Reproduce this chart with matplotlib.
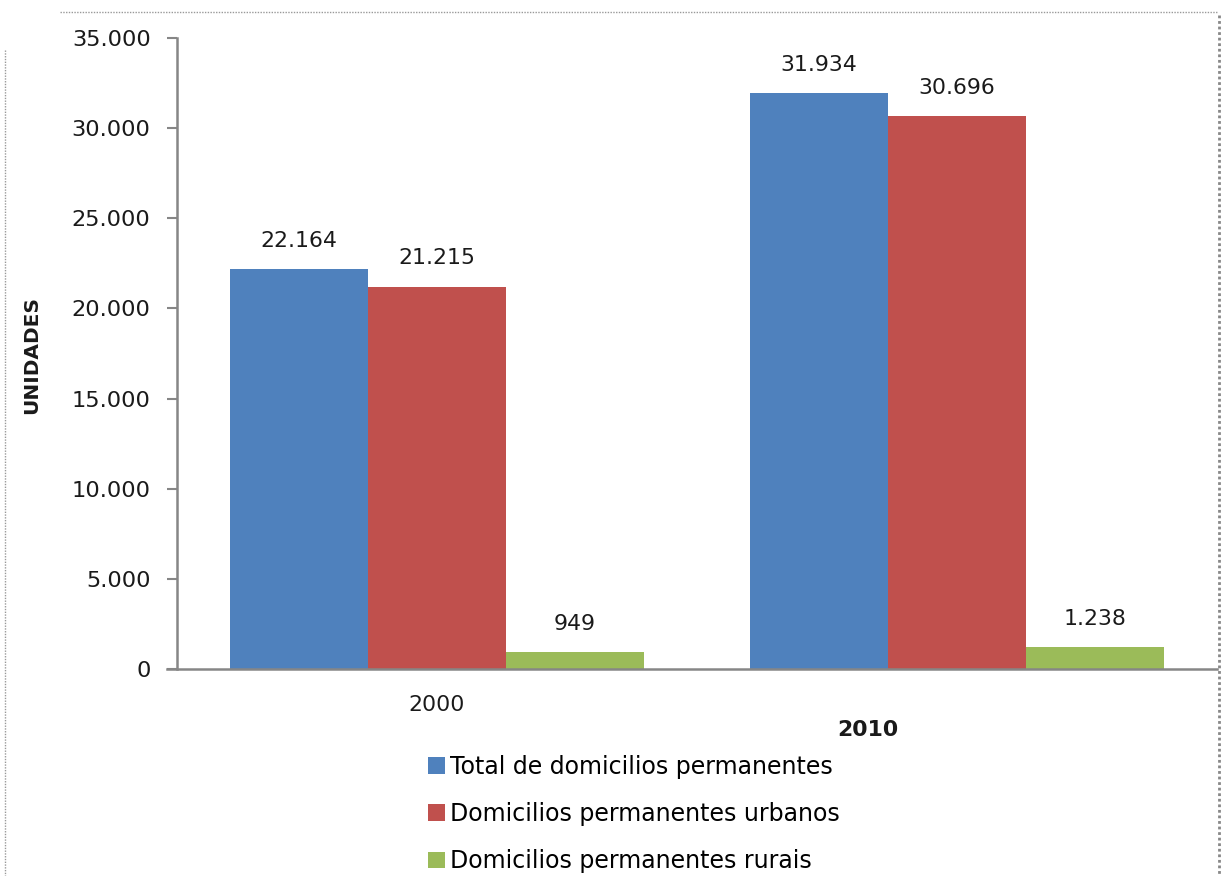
import matplotlib
matplotlib.use('Agg')
from matplotlib import pyplot as plt
from matplotlib.lines import Line2D
from matplotlib.patches import Patch
import numpy as np

years = ['2000', '2010']
series_names = ['Total de domicilios permanentes',
                'Domicilios permanentes urbanos',
                'Domicilios permanentes rurais']
total = [22164, 31934]
urbanos = [21215, 30696]
rurais = [949, 1238]
colors = ['#4F81BD', '#C0504D', '#9BBB59']

plt.rcParams['font.family'] = ['DejaVu Sans']
fs = 15.8

fig = plt.figure(figsize=(12.22, 8.76), dpi=100)
ax = fig.add_axes([177/1222, 1-669/876, (1217-177)/1222, (669-38)/876])

x = np.arange(len(years))
w = 0.2654
for i, (vals, col) in enumerate(zip([total, urbanos, rurais], colors)):
    bars = ax.bar(x + (i-1)*w, vals, w, color=col, zorder=2)
    for b, v in zip(bars, vals):
        lbl = '{:,}'.format(v).replace(',', '.')
        ax.annotate(lbl, (b.get_x()+b.get_width()/2, v), xytext=(0, 13),
                    textcoords='offset points', ha='center', va='bottom',
                    fontsize=fs, color='#1a1a1a')

ax.set_xlim(-0.5, 1.5)
ax.set_ylim(0, 35000)
ax.set_yticks(np.arange(0, 35001, 5000))
ax.set_yticklabels(['{:,}'.format(t).replace(',', '.') for t in range(0, 35001, 5000)])
ax.tick_params(axis='y', length=7, width=1.5, color='#868686', pad=12, labelsize=fs+0.4, labelcolor='#1a1a1a')
ax.set_xticks([])
for s in ['top', 'right']:
    ax.spines[s].set_visible(False)
for s in ['left', 'bottom']:
    ax.spines[s].set_color('#868686')
    ax.spines[s].set_linewidth(1.8)
ax.spines['bottom'].set_bounds(-0.5 - 10/520, 1.5)
ax.spines['bottom'].set_clip_on(False)

tr = ax.get_xaxis_transform()
ax.text(0, -0.057, years[0], transform=tr, ha='center', va='center', fontsize=fs, color='#1a1a1a')
ax.text(1 - 89/520, -0.097, years[1], transform=tr, ha='center', va='center', fontsize=fs,
        fontweight='bold', color='#1a1a1a')

fig.text(32/1222, 1-355/876, 'UNIDADES', rotation=90, ha='center', va='center',
         fontsize=fs-1.3, fontweight='bold', color='#1a1a1a')

handles = [Patch(facecolor=c) for c in colors]
fig.legend(handles, series_names, loc='upper left', bbox_to_anchor=(428/1222, 1-755/876),
           frameon=False, borderpad=0, borderaxespad=0, handlelength=0.72, handleheight=0.72,
           handletextpad=0.2, labelspacing=0.98, fontsize=17)

# dotted frame around the picture
fig.add_artist(Line2D([60/1222, 1218/1222], [1-12/876, 1-12/876], transform=fig.transFigure,
                      color='#999999', lw=1, ls=(0, (1, 1))))
fig.add_artist(Line2D([5/1222, 5/1222], [1-50/876, 0], transform=fig.transFigure,
                      color='#999999', lw=1, ls=(0, (1, 1))))
fig.add_artist(Line2D([1219/1222, 1219/1222], [1-15/876, 0], transform=fig.transFigure,
                      color='#888888', lw=2, ls=(0, (1, 1))))

fig.savefig('out.png', dpi=100)
